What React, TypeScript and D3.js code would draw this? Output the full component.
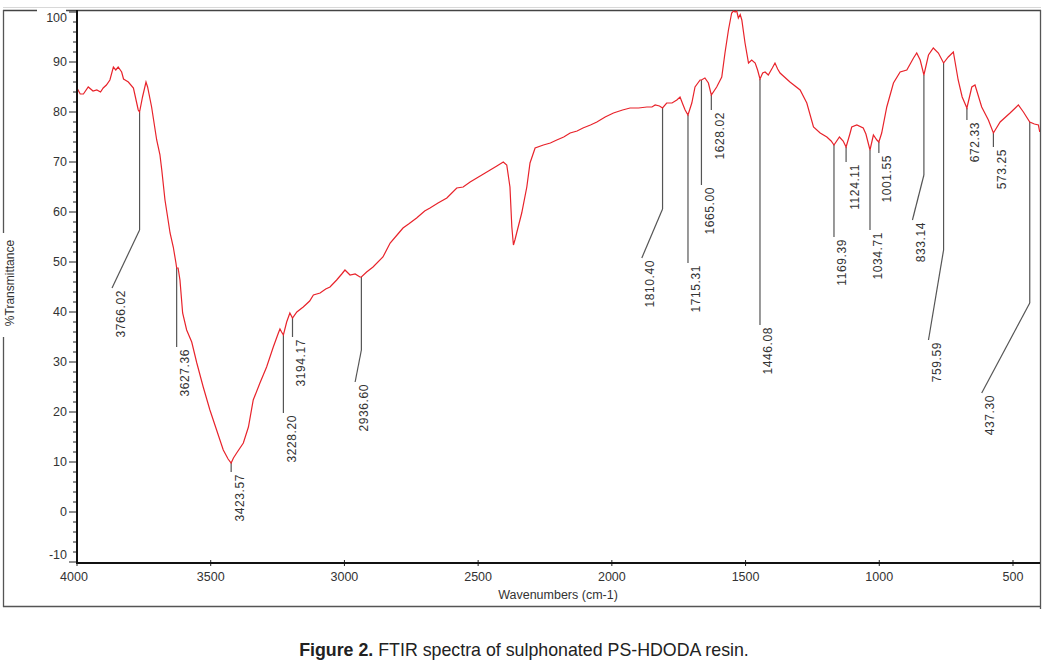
import React from "react";
import * as d3 from "d3";

// ---- Spectrum data (wavenumber cm-1, %Transmittance) ----
const wavenumbers = [
  4000, 3988, 3976, 3958, 3940, 3926, 3912, 3902, 3890, 3877, 3864, 3855, 3846, 3833, 3826, 3820,
  3808, 3789, 3780, 3771, 3766.02, 3755, 3742, 3736, 3721, 3702, 3690, 3683, 3671, 3660, 3652, 3640,
  3630, 3627.36, 3622, 3615, 3605, 3590, 3571, 3552, 3528, 3503, 3478, 3453, 3435, 3423.57, 3415,
  3403, 3378, 3359, 3341, 3316, 3291, 3266, 3247, 3241, 3235, 3228.2, 3216, 3204, 3194.17, 3178,
  3154, 3130, 3116, 3091, 3070, 3054, 3029, 3010, 2998, 2979, 2960, 2942, 2936.6, 2917, 2893, 2856,
  2829, 2800, 2781, 2760, 2730, 2700, 2680, 2650, 2617, 2580, 2556, 2530, 2505, 2480, 2455, 2430,
  2406, 2393, 2381, 2374, 2368, 2362, 2356, 2337, 2318, 2306, 2287, 2256, 2230, 2206, 2180, 2156,
  2130, 2108, 2080, 2056, 2025, 1994, 1960, 1932, 1900, 1869, 1850, 1838, 1822, 1810.4, 1795, 1775,
  1757, 1745, 1735, 1726, 1715.31, 1701, 1689, 1670, 1665, 1652, 1639, 1628.02, 1608, 1589, 1577,
  1564, 1552, 1545, 1539, 1533, 1527, 1520, 1514, 1502, 1489, 1477, 1464, 1455, 1446.08, 1436, 1427,
  1415, 1400, 1390, 1380, 1371, 1334, 1296, 1271, 1246, 1221, 1196, 1180, 1169.39, 1149, 1135,
  1124.11, 1110, 1103, 1084, 1060, 1050, 1034.71, 1022, 1009, 1001.55, 991, 972, 947, 922, 897, 872,
  860, 847, 833.14, 816, 798, 779, 759.59, 742, 723, 705, 690, 672.33, 654, 642, 617, 592, 573.25,
  548, 511, 480, 461, 437.3, 420, 405, 400,
];
const transmittance = [
  84.8, 83.6, 83.6, 85, 84.2, 84.4, 84.0, 84.8, 85.4, 86.4, 89, 88.4, 89, 88, 86.6, 86.4,
  86, 84.8, 82.6, 80.4, 80, 83, 86, 85, 81, 74.4, 71.5, 68.4, 62.4, 58.6, 55.8, 53,
  49.8, 48.8, 48.8, 46.4, 39.8, 36.4, 34, 29.8, 25, 20.4, 16.4, 12.4, 10.6, 9.8, 10.8,
  11.8, 13.8, 17, 22.4, 25.8, 29, 33, 35.8, 36.6, 36, 35.4, 38, 39.8, 38.8, 40,
  41, 42.2, 43.4, 43.8, 44.6, 45, 46.4, 47.6, 48.4, 47.4, 47.6, 47, 47, 48, 49, 51,
  53.8, 55.6, 56.8, 57.6, 58.8, 60.2, 60.8, 61.8, 62.8, 64.8, 65, 66, 66.8, 67.6, 68.4, 69.2,
  70, 69.4, 65, 57, 53.4, 54.5, 55.8, 59.8, 65, 69.8, 72.8, 73.4, 73.8, 74.4, 75, 75.8,
  76.2, 76.8, 77.4, 78, 79, 79.8, 80.4, 80.8, 80.8, 81, 81, 81.4, 81.2, 80.8, 81.8, 81.8,
  82.4, 83, 81.6, 80.4, 79.4, 81.8, 85, 86.4, 86.4, 86.8, 85.8, 83.4, 85, 87, 91.8,
  96.4, 99.8, 100.2, 100, 100.2, 98.8, 99.5, 98.4, 93.8, 89.8, 90.4, 89.8, 88.4, 86.6, 87.8, 88,
  87.4, 88.8, 89.8, 88.6, 87.8, 86, 84.4, 81.8, 77, 75.8, 75, 74.2, 73.4, 75, 74.2,
  73, 75.6, 77, 77.4, 76.8, 75.6, 72.4, 75.4, 74.4, 74, 75.8, 81, 85.8, 88, 88.4, 90.8,
  91.8, 90.4, 87.4, 91.4, 92.8, 91.8, 89.8, 91, 92, 86.4, 83, 80.8, 85, 85.4, 81, 78.4, 75.8,
  78, 79.8, 81.4, 80, 78, 77.6, 77.4, 76,
];

// ---- Peak annotations ----
const peakWavenumbers = [
  3766.02, 3627.36, 3423.57, 3228.2, 3194.17, 2936.6, 1810.4, 1715.31, 1665.0, 1628.02,
  1446.08, 1169.39, 1124.11, 1034.71, 1001.55, 833.14, 759.59, 672.33, 573.25, 437.3,
];
// leader vertical end (in %T)
const leaderEndT = [56.4, 33, 8, 19.8, 35, 32.4, 60.6, 49.8, 65.4, 80.4, 37.4, 55, 70, 56.4, 71.8, 67.4, 52.4, 78.4, 73, 41.8];
// optional slanted leader end (wavenumber, %T)
const leaderBendW: (number | null)[] = [3869, null, null, null, null, 2960, 1888, null, null, null, null, null, null, null, null, 876, 816, null, null, 617];
const leaderBendT: (number | null)[] = [44.8, null, null, null, null, 26, 50.8, null, null, null, null, null, null, null, null, 58.4, 34.4, null, null, 23.8];

// ---- Axis ticks ----
const xTickValues = [4000, 3500, 3000, 2500, 2000, 1500, 1000, 500];
const yTickValues = [-10, 0, 10, 20, 30, 40, 50, 60, 70, 80, 90, 100];

const FONT = "'Liberation Sans', Arial, Helvetica, sans-serif";

function interpT(w: number): number {
  for (let i = 0; i < wavenumbers.length - 1; i++) {
    const a = wavenumbers[i], b = wavenumbers[i + 1];
    if (w <= a && w >= b) {
      const t = a === b ? 0 : (a - w) / (a - b);
      return transmittance[i] + t * (transmittance[i + 1] - transmittance[i]);
    }
  }
  return transmittance[transmittance.length - 1];
}

export default function App() {
  const W = 1048, H = 662;
  const left = 77, right = 1040, top = 10, bottom = 563;
  const x = d3.scaleLinear().domain([4000, 399]).range([left, right]);
  const y = d3.scaleLinear().domain([-10.2, 100.4]).range([bottom, top]);

  const pts: [number, number][] = wavenumbers.map((w, i) => [w, transmittance[i]]);
  const line = d3.line<[number, number]>().x((d) => x(d[0])).y((d) => y(d[1]));

  const minorY = d3.range(-10, 101, 2);

  return (
    <svg width={W} height={H} style={{ position: "absolute", left: 0, top: 0, background: "#fff" }}>
      <rect x={0} y={0} width={W} height={H} fill="#fff" />
      {/* outer frame */}
      <line x1={3} x2={1041} y1={7.5} y2={7.5} stroke="#d8d8d8" strokeWidth={1} />
      <line x1={3} x2={37} y1={10.5} y2={10.5} stroke="#444" strokeWidth={1.3} />
      <line x1={66} x2={1041} y1={10.5} y2={10.5} stroke="#444" strokeWidth={1.3} />
      <line x1={3.5} x2={3.5} y1={10} y2={233} stroke="#555" strokeWidth={1.3} />
      <line x1={3.5} x2={3.5} y1={337} y2={607} stroke="#555" strokeWidth={1.3} />
      <line x1={1040.5} x2={1040.5} y1={10} y2={609} stroke="#555" strokeWidth={1.3} />
      <line x1={3} x2={1041} y1={606.5} y2={606.5} stroke="#555" strokeWidth={1.3} />

      <defs>
        <clipPath id="plotclip">
          <rect x={left} y={top - 2} width={right - left} height={bottom - top + 2} />
        </clipPath>
      </defs>

      {/* y axis ticks */}
      {minorY.map((v) => (
        <line key={"my" + v} x1={v % 10 === 0 ? left - 8 : left - 4} x2={left} y1={y(v)} y2={y(v)} stroke="#222" strokeWidth={1} />
      ))}
      {yTickValues.map((v) => (
        <text key={"yl" + v} x={left - 10} y={Math.min(Math.max(y(v), 18), 555)} textAnchor="end" dominantBaseline="central"
          fontFamily={FONT} fontSize={12.5} fill="#333">{v}</text>
      ))}

      {/* x axis ticks */}
      {xTickValues.map((v) => (
        <g key={"xt" + v}>
          <line x1={x(v)} x2={x(v)} y1={bottom - 3} y2={bottom + 3} stroke="#222" strokeWidth={1} />
          <text x={v === 4000 ? x(v) - 3 : x(v)} y={577} textAnchor="middle" dominantBaseline="central" fontFamily={FONT} fontSize={12.5} fill="#333">{v}</text>
        </g>
      ))}

      {/* axis titles */}
      <text x={558} y={595} textAnchor="middle" dominantBaseline="central" fontFamily={FONT} fontSize={12.5} fill="#333">Wavenumbers (cm-1)</text>
      <text transform="translate(10,283) rotate(-90)" textAnchor="middle" dominantBaseline="central" fontFamily={FONT} fontSize={12} fill="#333">%Transmittance</text>

      {/* peak leaders */}
      {peakWavenumbers.map((w, i) => {
        const px = x(w);
        const py = y(interpT(w));
        const ey = y(leaderEndT[i]);
        const bw = leaderBendW[i];
        const bt = leaderBendT[i];
        const lx = bw != null ? x(bw) : px;
        const ly = bt != null ? y(bt) : ey;
        return (
          <g key={"pk" + i}>
            <line x1={px} x2={px} y1={py} y2={ey} stroke="#555" strokeWidth={1.2} />
            {bw != null && <line x1={px} x2={lx} y1={ey} y2={ly} stroke="#555" strokeWidth={1.2} />}
            <text transform={`translate(${lx + 12.5},${ly + 2}) rotate(-90)`} textAnchor="end" fontFamily={FONT}
              fontSize={12} letterSpacing={0.6} fill="#333">{w.toFixed(2)}</text>
          </g>
        );
      })}

      {/* spectrum */}
      <path d={line(pts) || ""} fill="none" stroke="#e8232b" strokeWidth={1.2} clipPath="url(#plotclip)" />

      {/* axes */}
      <line x1={left} x2={left} y1={top} y2={bottom + 1} stroke="#111" strokeWidth={2} />
      <line x1={left} x2={right} y1={bottom} y2={bottom} stroke="#111" strokeWidth={2} />

      {/* caption */}
      <text x={524} y={656} textAnchor="middle" fontFamily={FONT} fontSize={17.8} fill="#222">
        <tspan fontWeight="bold">Figure 2.</tspan>
        <tspan> FTIR spectra of sulphonated PS-HDODA resin.</tspan>
      </text>
    </svg>
  );
}
